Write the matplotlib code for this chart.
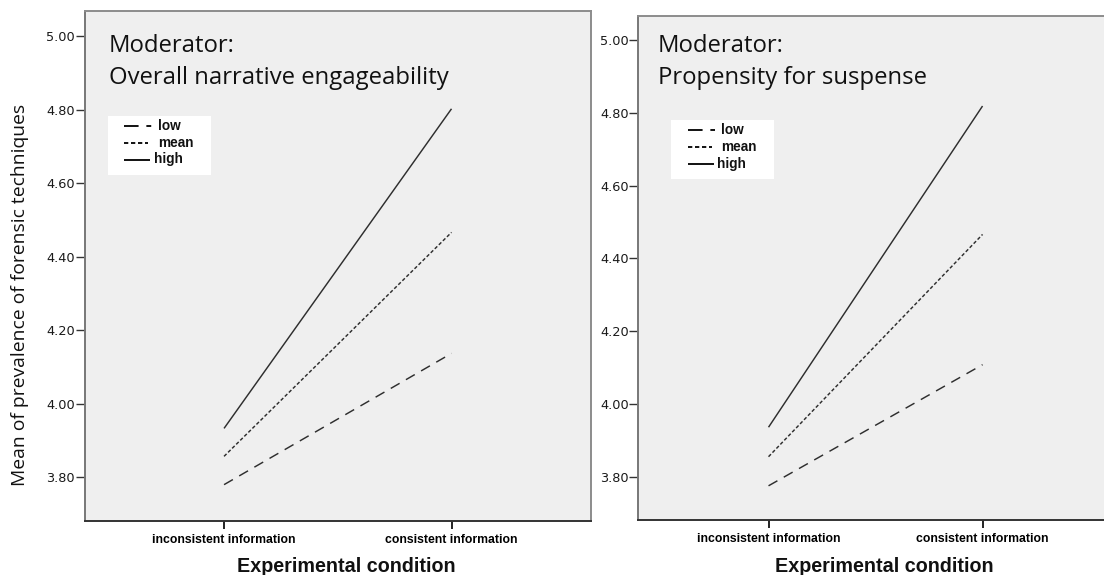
#!/usr/bin/env python3
"""Simple slopes of two moderators on prevalence of forensic techniques."""

import matplotlib
matplotlib.use("Agg")
import matplotlib.pyplot as plt
from matplotlib.patches import Rectangle

conditions = ["inconsistent information", "consistent information"]
levels = ["low", "mean", "high"]

engage_low = [3.78, 4.137]
engage_mean = [3.857, 4.466]
engage_high = [3.933, 4.802]

suspense_low = [3.775, 4.108]
suspense_mean = [3.855, 4.466]
suspense_high = [3.936, 4.819]

titles = ["Moderator:\nOverall narrative engageability", "Moderator:\nPropensity for suspense"]
y_ticks = [3.80, 4.00, 4.20, 4.40, 4.60, 4.80, 5.00]

LINE_COLOR = "#2e2e2e"
BG = "#efefef"
styles = {
    "low": dict(linestyle=(0, (7.0, 5.0)), linewidth=1.05),
    "mean": dict(linestyle=(0, (2.4, 1.5)), linewidth=1.05),
    "high": dict(linestyle="-", linewidth=1.05),
}
legend_styles = {
    "low": (0, (7.5, 4.0, 2.5, 20)),
    "mean": (0, (2.2, 1.4)),
    "high": "-",
}

W, H = 1104, 575
fig = plt.figure(figsize=(W / 100, H / 100), dpi=100)


def px_axes(left, top, right, bottom):
    return fig.add_axes([left / W, 1 - bottom / H, (right - left) / W, (bottom - top) / H])


ax_l = px_axes(84.6, 10.6, 590.5, 520.7)
ax_r = px_axes(638.4, 15.8, 1130, 520.0)

panels = [
    (ax_l, [engage_low, engage_mean, engage_high], (-0.613, 1.611), (3.682, 5.069), 109, 115.9, 107.9),
    (ax_r, [suspense_low, suspense_mean, suspense_high], (-0.608, 1.689), (3.681, 5.067), 658, 120.0, 671.0),
]

for i, (ax, series, xlim, ylim, title_x, by0, bx0) in enumerate(panels):
    ax.set_facecolor(BG)
    x = range(len(conditions))
    for name, vals in zip(levels, series):
        ax.plot(x, vals, color=LINE_COLOR, solid_capstyle="butt", **styles[name])
    ax.set_xlim(*xlim)
    ax.set_ylim(*ylim)
    ax.set_xticks(list(x))
    ax.set_xticklabels(conditions, fontsize=8.8, fontweight="bold", family="Liberation Sans")
    ax.set_yticks(y_ticks)
    ax.set_yticklabels([f"{v:.2f}" for v in y_ticks], fontsize=9.3, family="DejaVu Sans", color="#1a1a1a")
    ax.tick_params(axis="y", direction="out", length=6.5, width=1.0, color="#333333", pad=0.5)
    ax.tick_params(axis="x", direction="out", length=5.5, width=1.3, color="#111111", pad=4)
    for side in ["top", "right"]:
        ax.spines[side].set_color("#8c8c8c")
        ax.spines[side].set_linewidth(1.4)
    ax.spines["left"].set_color("#777777")
    ax.spines["left"].set_linewidth(1.4)
    ax.spines["bottom"].set_color("#333333")
    ax.spines["bottom"].set_linewidth(1.4)

    pos = ax.get_position()
    trans = ax.transAxes

    def ax_xy(px, py):
        return ((px / W - pos.x0) / pos.width, ((1 - py / H) - pos.y0) / pos.height)

    # two-line title, placed by baseline of the first line
    tx0, ty0 = ax_xy(title_x, 52)
    ax.text(tx0, ty0, titles[i].split("\n")[0], transform=trans, ha="left", va="baseline",
            fontsize=17.2, family="Open Sans", color="#111111")
    tx1, ty1 = ax_xy(title_x, 84.5)
    ax.text(tx1, ty1, titles[i].split("\n")[1], transform=trans, ha="left", va="baseline",
            fontsize=17.2, family="Open Sans", color="#111111")

    # legend box
    x0, y1 = ax_xy(bx0, by0)
    x1, y0 = ax_xy(bx0 + 103, by0 + 59)
    ax.add_patch(Rectangle((x0, y0), x1 - x0, y1 - y0, transform=trans,
                           facecolor="white", edgecolor="none", zorder=3))
    rows = [(9.9, 27.5, 50), (27.1, 24, 50), (43.6, 26, 46)]
    for name, (dy, llen, tx) in zip(levels, rows):
        lx0, ly = ax_xy(bx0 + 16.5, by0 + dy)
        lx1, _ = ax_xy(bx0 + 16.5 + llen, by0 + dy)
        ax.plot([lx0, lx1], [ly, ly], transform=trans, color="#111111", linewidth=1.4,
                linestyle=legend_styles[name], solid_capstyle="butt", zorder=4, clip_on=False)
        txx, _ = ax_xy(bx0 + tx, by0 + dy)
        ax.text(txx, ly, name, transform=trans, ha="left", va="center", fontsize=9.8,
                fontweight="bold", family="Liberation Sans", color="#111111", zorder=5)

fig.text(20 / W, 1 - 295 / H, "Mean of prevalence of forensic techniques", rotation=90,
         ha="center", va="center", fontsize=13.9, family="Open Sans", color="#111111")
fig.text(346 / W, 1 - 566 / H, "Experimental condition", ha="center", va="center",
         fontsize=14.2, fontweight="bold", family="Liberation Sans", color="#111111")
fig.text(884 / W, 1 - 566 / H, "Experimental condition", ha="center", va="center",
         fontsize=14.2, fontweight="bold", family="Liberation Sans", color="#111111")

fig.savefig("out.png", dpi=100, facecolor="white")
